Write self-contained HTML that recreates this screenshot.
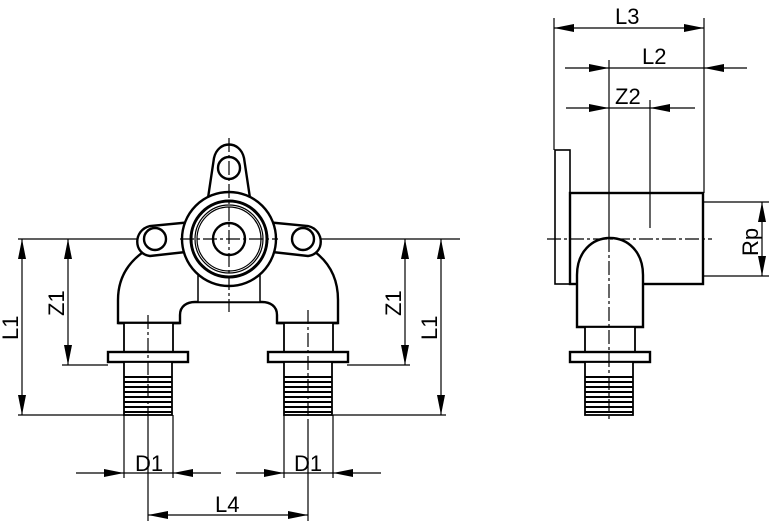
<!DOCTYPE html>
<html><head><style>body{margin:0;background:#fff}svg{display:block}text{font-family:"Liberation Sans",Arial,sans-serif;font-size:22px;fill:#000}</style></head><body>
<svg width="769" height="523" viewBox="0 0 769 523" xmlns="http://www.w3.org/2000/svg">
<defs>
<marker id="a" viewBox="0 0 20 8" refX="20" refY="4" markerWidth="20" markerHeight="8" markerUnits="userSpaceOnUse" orient="auto-start-reverse"><path d="M0,0 L20,4 L0,8z" fill="#000"/></marker>
</defs>
<g stroke="#000" fill="none" stroke-width="1.2">
<line x1="18" y1="239" x2="460" y2="239"/>
<line x1="18" y1="415" x2="124" y2="415"/>
<line x1="62" y1="365" x2="108" y2="365"/>
<line x1="347" y1="365" x2="410" y2="365"/>
<line x1="333" y1="415" x2="446" y2="415"/>
<line x1="22" y1="239" x2="22" y2="415" marker-start="url(#a)" marker-end="url(#a)"/>
<line x1="68" y1="239" x2="68" y2="365" marker-start="url(#a)" marker-end="url(#a)"/>
<line x1="405" y1="239" x2="405" y2="365" marker-start="url(#a)" marker-end="url(#a)"/>
<line x1="441" y1="239" x2="441" y2="415" marker-start="url(#a)" marker-end="url(#a)"/>
<line x1="124" y1="415" x2="124" y2="478"/><line x1="173" y1="415" x2="173" y2="478"/>
<line x1="284" y1="415" x2="284" y2="478"/><line x1="333" y1="415" x2="333" y2="478"/>
<line x1="76" y1="473" x2="124" y2="473" marker-end="url(#a)"/><line x1="124" y1="473" x2="173" y2="473"/><line x1="221" y1="473" x2="173" y2="473" marker-end="url(#a)"/>
<line x1="236" y1="473" x2="284" y2="473" marker-end="url(#a)"/><line x1="284" y1="473" x2="333" y2="473"/><line x1="381" y1="473" x2="333" y2="473" marker-end="url(#a)"/>
<line x1="148" y1="420" x2="148" y2="521"/><line x1="308" y1="420" x2="308" y2="521"/>
<line x1="148" y1="515" x2="308" y2="515" marker-start="url(#a)" marker-end="url(#a)"/>
</g>
<g stroke="#000" fill="#fff" stroke-width="2.4">
<path d="M118,323 L118,300 C118,262 150,240 190,236 L270,236 C310,240 338,262 338,300 L338,323 L277,323 L277,315 C277,306 270,302 262,302 L195,302 C187,302 180,306 180,315 L180,323 Z"/>
<line x1="118" y1="323" x2="180" y2="323"/><line x1="277" y1="323" x2="338" y2="323"/>
<rect x="198" y="260" width="62" height="42" stroke-width="1.5"/>
<path d="M208,198 L214,158 C218,140 240,140 244,158 L250,198 Z"/>
<circle cx="229" cy="168" r="11"/>
<path d="M192,222 L150,226 C133,230 133,254 150,256 L186,252 Z"/>
<circle cx="155" cy="239" r="11"/>
<path d="M266,222 L308,226 C325,230 325,254 308,256 L272,252 Z"/>
<circle cx="303" cy="239" r="11"/>
<circle cx="229" cy="239" r="47"/>
<circle cx="229" cy="239" r="38" stroke-width="3"/>
<circle cx="229" cy="239" r="34" stroke-width="1.2"/>
<circle cx="229" cy="239" r="32" stroke-width="1.2"/>
<circle cx="229" cy="239" r="16"/>
<rect x="124" y="323" width="49" height="29" stroke-width="1.8"/>
<rect x="108" y="352" width="80" height="10"/>
<rect x="124" y="362" width="48" height="53" stroke-width="1.8"/>
<rect x="284" y="323" width="49" height="29" stroke-width="1.8"/>
<rect x="268" y="352" width="80" height="10"/>
<rect x="284" y="362" width="48" height="53" stroke-width="1.8"/>
<rect x="555" y="150" width="15" height="134" stroke-width="1.6"/>
<rect x="570" y="193" width="133" height="91"/>
<path d="M577,327 L577,275 C577,252 592,238 610,238 C628,238 643,252 643,275 L643,327 Z"/>
<rect x="585" y="327" width="50" height="25" stroke-width="1.8"/>
<rect x="570" y="352" width="80" height="10"/>
<rect x="585" y="362" width="48" height="53" stroke-width="1.8"/>
</g>
<g stroke="#000" stroke-width="2">
<path d="M124,377h48M124,382h48M124,387h48M124,392h48M124,397h48M124,402h48M124,407h48M124,412h48"/>
<path d="M284,377h48M284,382h48M284,387h48M284,392h48M284,397h48M284,402h48M284,407h48M284,412h48"/>
<path d="M585,377h48M585,382h48M585,387h48M585,392h48M585,397h48M585,402h48M585,407h48M585,412h48"/>
</g>
<g stroke="#000" stroke-dasharray="14,3,3,3" stroke-width="1.2"><line x1="229" y1="138" x2="229" y2="312"/><line x1="148" y1="315" x2="148" y2="420"/><line x1="308" y1="310" x2="308" y2="420"/><line x1="180" y1="239" x2="278" y2="239"/></g>
<g stroke="#000" fill="none" stroke-width="1.2">
<line x1="554" y1="18" x2="554" y2="150"/><line x1="704" y1="18" x2="704" y2="193"/>
<line x1="609" y1="60" x2="609" y2="238"/><line x1="609" y1="238" x2="609" y2="420" stroke-dasharray="14,3,3,3"/><line x1="650" y1="100" x2="650" y2="228"/>
<line x1="554" y1="28" x2="704" y2="28" marker-start="url(#a)" marker-end="url(#a)"/>
<line x1="565" y1="68" x2="609" y2="68" marker-end="url(#a)"/><line x1="609" y1="68" x2="704" y2="68"/><line x1="747" y1="68" x2="704" y2="68" marker-end="url(#a)"/>
<line x1="566" y1="108" x2="609" y2="108" marker-end="url(#a)"/><line x1="609" y1="108" x2="650" y2="108"/><line x1="695" y1="108" x2="650" y2="108" marker-end="url(#a)"/>
<line x1="704" y1="202" x2="769" y2="202"/><line x1="704" y1="276" x2="769" y2="276"/>
<line x1="762" y1="202" x2="762" y2="276" marker-start="url(#a)" marker-end="url(#a)"/>
<line x1="547" y1="239" x2="712" y2="239" stroke-dasharray="14,3,3,3"/>
</g>
<text x="135" y="471">D1</text><text x="294" y="471">D1</text><text x="215" y="512">L4</text>
<text x="615" y="24">L3</text><text x="642" y="64">L2</text><text x="615" y="104">Z2</text>
<text transform="translate(18,340) rotate(-90)">L1</text>
<text transform="translate(64,316) rotate(-90)">Z1</text>
<text transform="translate(401,316) rotate(-90)">Z1</text>
<text transform="translate(437,340) rotate(-90)">L1</text>
<text transform="translate(758,256) rotate(-90)">Rp</text>
</svg>
</body></html>
